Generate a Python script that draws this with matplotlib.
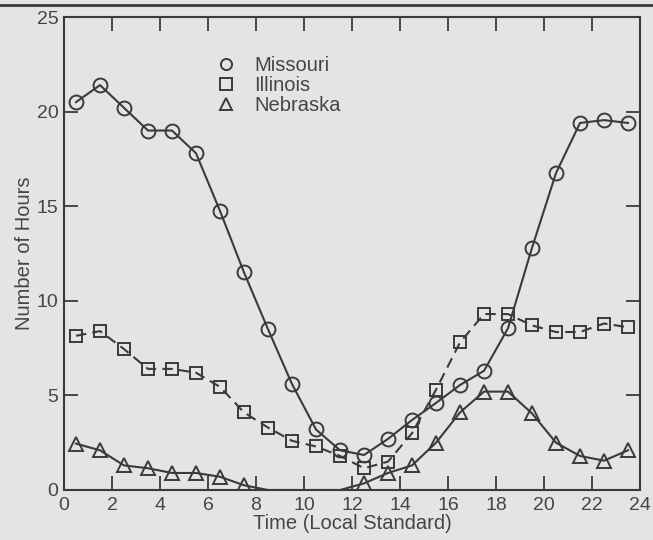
import numpy as np
import matplotlib
matplotlib.use("Agg")
import matplotlib.pyplot as plt
from matplotlib.lines import Line2D

plt.rcParams['font.family'] = ['Liberation Sans', 'DejaVu Sans']

hours = [0.5, 1.5, 2.5, 3.5, 4.5, 5.5, 6.5, 7.5, 8.5, 9.5, 10.5, 11.5,
         12.5, 13.5, 14.5, 15.5, 16.5, 17.5, 18.5, 19.5, 20.5, 21.5, 22.5, 23.5]
missouri = [20.5, 21.4, 20.2, 19.0, 19.0, 17.8, 14.75, 11.5, 8.5, 5.6, 3.2, 2.1,
            1.85, 2.7, 3.7, 4.6, 5.55, 6.3, 8.55, 12.8, 16.75, 19.4, 19.55, 19.4]
illinois = [8.15, 8.4, 7.45, 6.4, 6.4, 6.2, 5.45, 4.1, 3.3, 2.6, 2.3, 1.8,
            1.15, 1.5, 3.0, 5.3, 7.8, 9.3, 9.3, 8.7, 8.35, 8.35, 8.8, 8.6]
nebraska = [2.45, 2.1, 1.3, 1.15, 0.9, 0.9, 0.7, 0.25, 0.0, np.nan, np.nan, 0.0,
            0.35, 0.9, 1.3, 2.5, 4.1, 5.2, 5.2, 4.05, 2.5, 1.8, 1.55, 2.1]
labels = ['Missouri', 'Illinois', 'Nebraska']

ink = '#3a3a3a'
txt = '#454545'
bg = '#e4e4e2'

fig = plt.figure(figsize=(6.53, 5.4), dpi=100, facecolor=bg)
ax = fig.add_axes([64/653, 1-490/540, 576/653, 473/540], facecolor=bg)

ax.plot(hours, missouri, '-', color=ink, lw=1.5, marker='o', ms=10,
        mfc='none', mec=ink, mew=1.4, label=labels[0])
ax.plot(hours, illinois, '--', color=ink, lw=1.5, dashes=(5, 3), marker='s', ms=8.5,
        mfc='none', mec=ink, mew=1.4, label=labels[1])
neb = np.array(nebraska, dtype=float)
mask = [i for i, v in enumerate(neb) if not np.isnan(v) and v > 0]
ax.plot(hours, np.nan_to_num(neb, nan=0.0), '-', color=ink, lw=1.5, marker='^', ms=9.5,
        mfc='none', mec=ink, mew=1.4, markevery=mask, label=labels[2])

ax.set_xlim(0, 24)
ax.set_ylim(0, 25)
ax.set_xticks(range(0, 25, 2))
ax.set_yticks(range(0, 26, 5))
ax.tick_params(direction='in', length=10, width=1.3, colors=ink, labelsize=14,
               top=True, right=True, pad=4)
ax.tick_params(axis='x', pad=5)
for s in ax.spines.values():
    s.set_color(ink)
    s.set_linewidth(1.5)
for lab in ax.get_xticklabels() + ax.get_yticklabels():
    lab.set_color(txt)

ax.set_xlabel('Time (Local Standard)', fontsize=14.5, color=txt, labelpad=0)
ax.set_ylabel('Number of Hours', fontsize=14.5, color=txt, labelpad=2)

leg = ax.legend(loc='upper left', bbox_to_anchor=(0.25, 0.935), frameon=False,
                fontsize=14.5, handlelength=1.0, handletextpad=0.9, labelspacing=0.05,
                borderaxespad=0)
for h in leg.legend_handles:
    h.set_linestyle('none')
    h.set_markersize(8)
for t in leg.get_texts():
    t.set_color(txt)

fig.add_artist(Line2D([0, 1], [1-5/540, 1-5/540], color=ink, lw=2, transform=fig.transFigure))

fig.savefig('out.png', dpi=100, facecolor=bg)
